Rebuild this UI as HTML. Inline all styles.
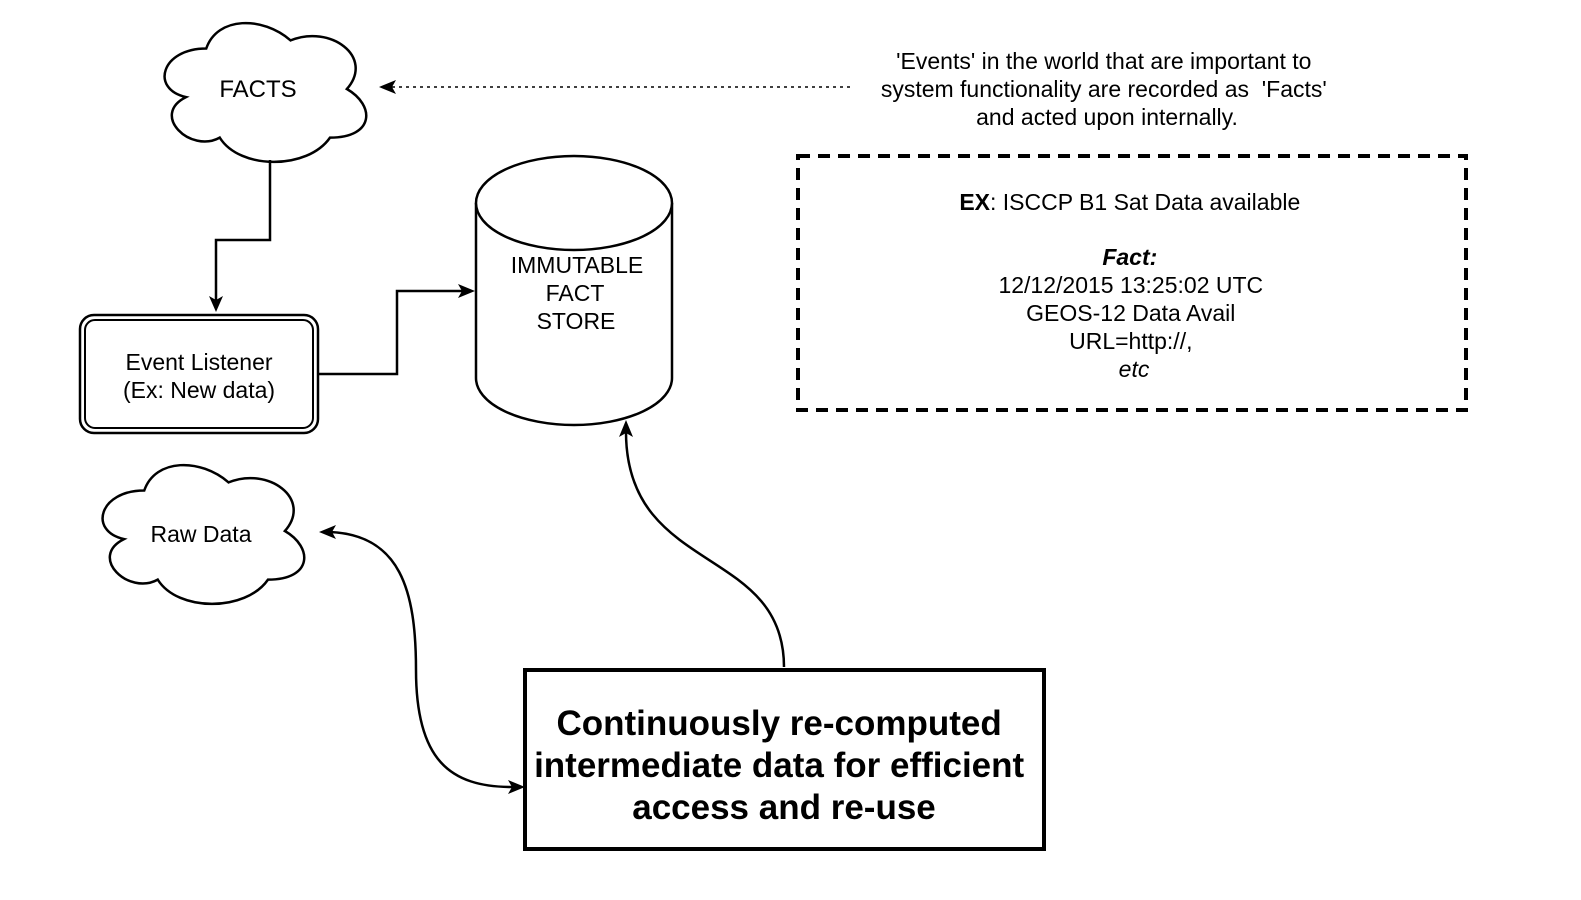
<!DOCTYPE html>
<html><head><meta charset="utf-8"><style>
html,body{margin:0;padding:0;background:#fff;}
svg{display:block;font-family:"Liberation Sans",Arial,sans-serif;}
</style></head><body>
<svg width="1581" height="900" viewBox="0 0 1581 900" xmlns="http://www.w3.org/2000/svg">

<!-- FACTS cloud -->
<path d="M206.25,48.5 C161.25,48.5 150,89 186,97.1 C150,114.9 190.5,153.8 219.75,137.6 C240,170 307.5,170 330,137.6 C375,137.6 375,105.2 346.9,89 C375,56.6 330,24.2 290.6,40.4 C262.5,16.1 217.5,16.1 206.25,48.5 Z" fill="#fff" stroke="#000" stroke-width="2.5"/>
<text x="258" y="97" font-size="24" text-anchor="middle">FACTS</text>

<!-- Raw data cloud -->
<g transform="translate(-62,442)">
<path d="M206.25,48.5 C161.25,48.5 150,89 186,97.1 C150,114.9 190.5,153.8 219.75,137.6 C240,170 307.5,170 330,137.6 C375,137.6 375,105.2 346.9,89 C375,56.6 330,24.2 290.6,40.4 C262.5,16.1 217.5,16.1 206.25,48.5 Z" fill="#fff" stroke="#000" stroke-width="2.5"/>
</g>
<text x="201" y="542" font-size="23" text-anchor="middle">Raw Data</text>

<!-- FACTS -> listener -->
<path d="M270,160 L270,240 L216,240 L216,302" fill="none" stroke="#000" stroke-width="2.5"/>
<polygon points="216,312 209,296 216,300 223,296" fill="#000"/>

<!-- Event listener -->
<rect x="80" y="315" width="238" height="118" rx="14" fill="#fff" stroke="#000" stroke-width="2.5"/>
<rect x="85" y="320" width="228" height="108" rx="10" fill="none" stroke="#000" stroke-width="2"/>
<text x="199" y="370" font-size="23" text-anchor="middle">Event Listener</text>
<text x="199" y="398" font-size="23" text-anchor="middle">(Ex: New data)</text>

<!-- listener -> store -->
<path d="M318,374 L397,374 L397,291 L464,291" fill="none" stroke="#000" stroke-width="2.5"/>
<polygon points="475,291 458,284 462,291 458,298" fill="#000"/>

<!-- Cylinder -->
<path d="M476,203 L476,378 A98,47 0 0 0 672,378 L672,203" fill="#fff" stroke="#000" stroke-width="2.5"/>
<ellipse cx="574" cy="203" rx="98" ry="47" fill="#fff" stroke="#000" stroke-width="2.5"/>
<text x="577" y="273" font-size="23" text-anchor="middle">IMMUTABLE</text>
<text x="575" y="301" font-size="23" text-anchor="middle">FACT</text>
<text x="576" y="329" font-size="23" text-anchor="middle">STORE</text>

<!-- dotted arrow -->
<line x1="850" y1="87" x2="392" y2="87" stroke="#000" stroke-width="1.6" stroke-dasharray="3,4"/>
<polygon points="379,87 396,80 392,87 396,94" fill="#000"/>
<text font-size="23" text-anchor="middle">
<tspan x="1107" y="69">'Events' in the world that are important to</tspan>
<tspan x="1107" y="97">system functionality are recorded as&#160; 'Facts'</tspan>
<tspan x="1107" y="125">and acted upon internally.</tspan>
</text>

<!-- dashed box -->
<rect x="798" y="156" width="668" height="254" fill="none" stroke="#000" stroke-width="4" stroke-dasharray="12,8"/>
<text font-size="23" text-anchor="middle">
<tspan x="1133" y="210"><tspan font-weight="bold">EX</tspan>: ISCCP B1 Sat Data available</tspan>
<tspan x="1133" y="265" font-weight="bold" font-style="italic">Fact:</tspan>
<tspan x="1134" y="293">12/12/2015 13:25:02 UTC</tspan>
<tspan x="1134" y="321">GEOS-12 Data Avail</tspan>
<tspan x="1134" y="349">URL=http://,</tspan>
<tspan x="1134" y="377" font-style="italic">etc</tspan>
</text>

<!-- curve box -> store -->
<path d="M784,667 C784,545 626,575 626,432" fill="none" stroke="#000" stroke-width="2.5"/>
<polygon points="626,420 619,437 626,433 633,437" fill="#000"/>
<!-- double arrow -->
<path d="M330,532 C400,535 416,590 416,670 C416,760 450,787 512,787" fill="none" stroke="#000" stroke-width="2.5"/>
<polygon points="319,532 336,525 332,532 336,539" fill="#000"/>
<polygon points="525,787 508,780 512,787 508,794" fill="#000"/>

<!-- bottom box -->
<rect x="525" y="670" width="519" height="179" fill="#fff" stroke="#000" stroke-width="4"/>
<text font-size="35" font-weight="bold" text-anchor="middle">
<tspan x="784" y="735">Continuously re-computed</tspan>
<tspan x="784" y="777">intermediate data for efficient</tspan>
<tspan x="784" y="819">access and re-use</tspan>
</text>
</svg>
</body></html>
